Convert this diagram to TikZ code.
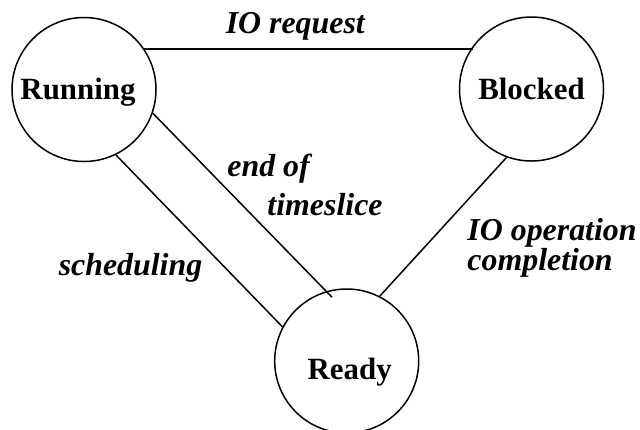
\documentclass[tikz,border=0pt]{standalone}
\usepackage{fontspec}
\setmainfont{Liberation Serif}
\usetikzlibrary{calc}
\begin{document}
\begin{tikzpicture}[x=1bp,y=-1bp,
  line width=1.5bp,
  statenode/.style={circle,draw,minimum size=144bp,inner sep=0pt,
    font=\fontsize{31}{36}\selectfont\bfseries,text height=20bp,text depth=0bp},
  edgelbl/.style={anchor=base west,inner sep=0pt,
    font=\fontsize{32}{28.3}\selectfont\bfseries\itshape}]
\useasboundingbox (0,0) rectangle (640,429);
\node[statenode] (run) at (84,89.5) {\hspace*{-12bp}Running};
\node[statenode] (blk) at (531.5,89) {Blocked};
\node[statenode,text height=36bp] (rdy) at (346.7,361) {\hspace*{6bp}Ready};
\coordinate (tsend) at ($(rdy.center)!0.9!(rdy.103)$);
\draw (run.34) -- (run.34 -| blk.144);
\draw (run.-64.7) -- (rdy.152.2);
\draw (run.-19) -- (tsend);
\draw (blk.-110) -- (rdy.63);
\node[edgelbl] (lreq) at (225,33.3) {IO request};
\node[edgelbl,text depth=0bp] (lend) at (226.7,176.7) {end of};
\node[edgelbl] (lts) at (266.7,215) {timeslice};
\node[edgelbl] (lsch) at (58,275) {scheduling};
\node[edgelbl,align=left] (lop) at (466.7,270) {IO operation\\completion};
\end{tikzpicture}
\end{document}
